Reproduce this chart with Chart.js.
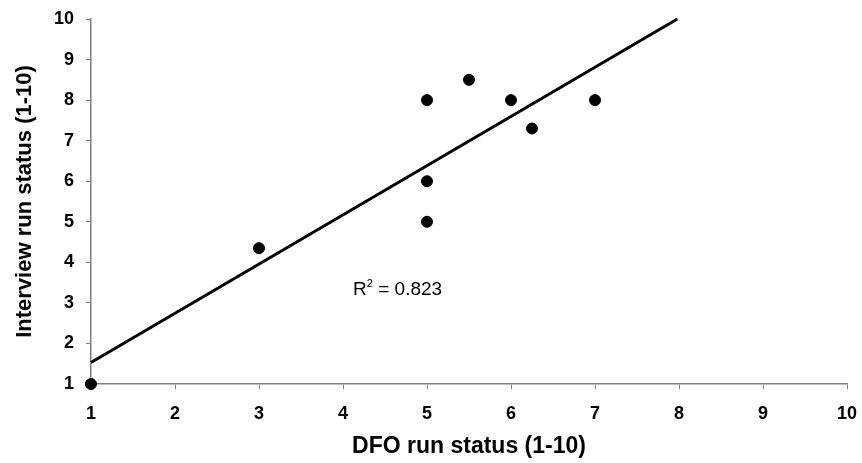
<!DOCTYPE html>
<html>
<head>
<meta charset="utf-8">
<script src="https://cdn.jsdelivr.net/npm/chart.js@4/dist/chart.umd.min.js"></script>
<style>
  html, body { margin: 0; padding: 0; background: #fff; }
  #wrap { width: 862px; height: 463px; position: relative; }
</style>
</head>
<body>
<div id="wrap"><canvas id="c"></canvas></div>
<script>
// Data
const dfoStatus = [1, 3, 5, 5, 5, 5.5, 6, 6.25, 7];
const interviewStatus = [1, 4.35, 8, 6, 5, 8.5, 8, 7.3, 8];
const trendX = [1, 7.98];
const trendY = [1.53, 10];
const rSquaredText = ["R", "2", " = 0.823"];
const rSquaredPos = [4.12, 3.32];
const xTitle = "DFO run status (1-10)";
const yTitle = "Interview run status (1-10)";

const FONT = "'Liberation Sans', Arial, sans-serif";

const points = dfoStatus.map((x, i) => ({ x: x, y: interviewStatus[i] }));
const trend = trendX.map((x, i) => ({ x: x, y: trendY[i] }));

const r2Plugin = {
  id: 'r2label',
  afterDatasetsDraw(chart) {
    const ctx = chart.ctx;
    const xs = chart.scales.x, ys = chart.scales.y;
    let px = xs.getPixelForValue(rSquaredPos[0]);
    const py = ys.getPixelForValue(rSquaredPos[1]);
    ctx.save();
    ctx.fillStyle = '#000';
    ctx.textBaseline = 'middle';
    ctx.textAlign = 'left';
    ctx.font = "19px " + FONT;
    ctx.fillText(rSquaredText[0], px, py);
    px += ctx.measureText(rSquaredText[0]).width;
    ctx.font = "11px " + FONT;
    ctx.fillText(rSquaredText[1], px, py - 6);
    px += ctx.measureText(rSquaredText[1]).width;
    ctx.font = "19px " + FONT;
    ctx.fillText(rSquaredText[2], px, py);
    ctx.restore();
  }
};

new Chart(document.getElementById('c'), {
  type: 'scatter',
  data: {
    datasets: [
      {
        type: 'line',
        data: trend,
        borderColor: '#000',
        borderWidth: 3,
        pointRadius: 0,
        fill: false,
        tension: 0,
        clip: false,
        order: 1
      },
      {
        data: points,
        backgroundColor: '#000',
        borderColor: '#000',
        pointRadius: 5.5,
        pointHoverRadius: 5.5,
        clip: false,
        order: 0
      }
    ]
  },
  options: {
    responsive: true,
    maintainAspectRatio: false,
    animation: false,
    events: [],
    layout: { padding: { top: 19, right: 15, left: 0, bottom: 0 } },
    plugins: {
      legend: { display: false },
      tooltip: { enabled: false }
    },
    scales: {
      x: {
        type: 'linear',
        min: 1, max: 10,
        afterFit(s) { s.height = 79; s.paddingLeft = 0; s.paddingRight = 0; },
        ticks: {
          stepSize: 1,
          color: '#000',
          font: { family: FONT, size: 18, weight: 'bold' },
          padding: 14
        },
        grid: {
          display: true,
          drawOnChartArea: false,
          drawTicks: true,
          tickLength: 5,
          color: '#808080'
        },
        border: { display: true, color: '#808080', width: 1.5 },
        title: {
          display: true,
          text: xTitle,
          color: '#000',
          font: { family: FONT, size: 23, weight: 'bold' },
          padding: { top: 0, bottom: 3 }
        }
      },
      y: {
        type: 'linear',
        min: 1, max: 10,
        afterFit(s) { s.width = 91; s.paddingTop = 0; s.paddingBottom = 0; },
        ticks: {
          stepSize: 1,
          color: '#000',
          font: { family: FONT, size: 18, weight: 'bold' },
          padding: 12
        },
        grid: {
          display: true,
          drawOnChartArea: false,
          drawTicks: true,
          tickLength: 5,
          color: '#808080'
        },
        border: { display: true, color: '#808080', width: 1.5 },
        title: {
          display: true,
          text: yTitle,
          color: '#000',
          font: { family: FONT, size: 22, weight: 'bold' },
          padding: { top: 12, bottom: 0 }
        }
      }
    }
  },
  plugins: [r2Plugin]
});
</script>
</body>
</html>
